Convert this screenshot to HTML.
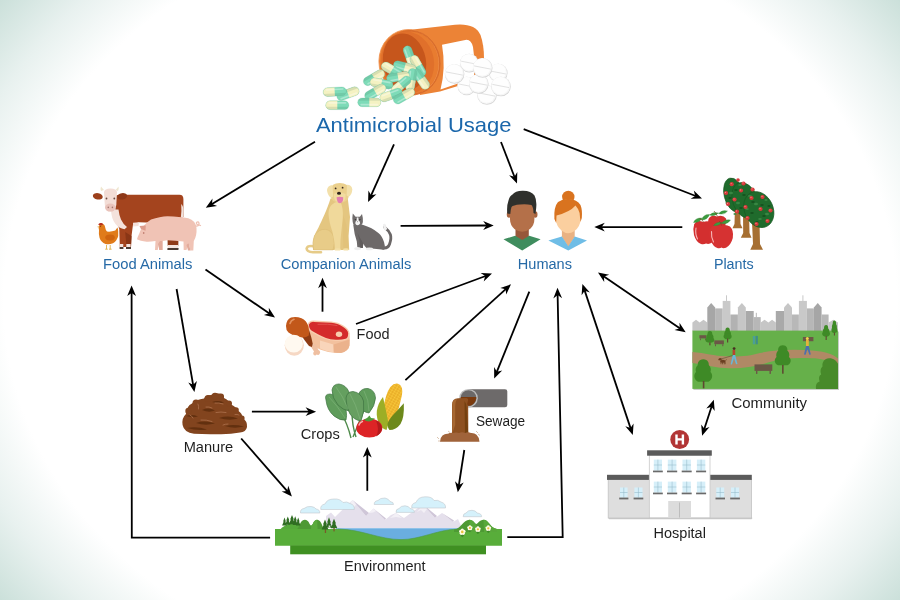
<!DOCTYPE html>
<html><head><meta charset="utf-8"><title>Antimicrobial Usage</title>
<style>
html,body{margin:0;padding:0;width:900px;height:600px;overflow:hidden;background:#fff;}
svg{display:block;will-change:transform;}
text{font-family:"Liberation Sans",sans-serif;}
</style></head><body>
<svg width="900" height="600" viewBox="0 0 900 600">
<defs>
<radialGradient id="bg" cx="450" cy="300" r="485" gradientUnits="userSpaceOnUse" gradientTransform="translate(450 300) scale(1.18 1) translate(-450 -300)">
<stop offset="0" stop-color="#ffffff"/>
<stop offset="0.78" stop-color="#ffffff"/>
<stop offset="0.89" stop-color="#e8f1ef"/>
<stop offset="1" stop-color="#cbe0da"/>
</radialGradient>
</defs>
<rect width="900" height="600" fill="url(#bg)"/>
<g id="pills">
<!-- bottle body -->
<path d="M404,30.5 L455,24.8 Q475,23 480.5,35 Q484,45 484,58 L484,78 L440,91.5 L420,95 Z" fill="#ec8336"/>
<!-- label -->
<path d="M442,44.8 L466.5,39.8 Q471.5,40.2 473,47 L474.5,60 L474,78 L440.5,89.6 Q446,68 442,44.8 Z" fill="#ffffff"/>
<!-- rim -->
<ellipse cx="409" cy="62.5" rx="30" ry="33" fill="#e87c30" stroke="#f0924f" stroke-width="0.8" transform="rotate(-10 409 62.5)"/>
<ellipse cx="411.5" cy="62.5" rx="28.5" ry="32.2" fill="none" stroke="#d46828" stroke-width="0.7" transform="rotate(-10 411.5 62.5)"/>
<ellipse cx="412" cy="62.5" rx="27.5" ry="31.5" fill="none" stroke="#d6692a" stroke-width="0.8" transform="rotate(-10 412 62.5)"/>
<ellipse cx="407.5" cy="62.5" rx="26.5" ry="31" fill="#e0702b" transform="rotate(-10 407.5 62.5)"/>
<ellipse cx="404.5" cy="62" rx="21.5" ry="28.8" fill="#c6561c" transform="rotate(-10 404.5 62)"/>
<!-- capsules inside -->
<g transform="translate(410,57) rotate(-110)"><rect x="-11.6" y="-4.4" width="23.2" height="8.8" rx="4.4" fill="#7edbb8"/><path d="M0,-4.4 H-7.2 A4.4,4.4 0 0 0 -7.2,4.4 H0 Z" fill="#f4f2c2"/><path d="M-11.2,1.6 H11.2 A4.4,4.4 0 0 1 7.2,4.4 H-7.2 A4.4,4.4 0 0 1 -11.2,1.6 Z" fill="#1d5a40" opacity="0.13"/><rect x="-9" y="-3.1" width="18" height="1.6" rx="0.8" fill="#ffffff" opacity="0.35"/><rect x="-11.6" y="-4.4" width="23.2" height="8.8" rx="4.4" fill="none" stroke="#5aa98a" stroke-width="0.3" opacity="0.6"/></g>
<g transform="translate(418,66) rotate(60)"><rect x="-11.6" y="-4.4" width="23.2" height="8.8" rx="4.4" fill="#7edbb8"/><path d="M0,-4.4 H-7.2 A4.4,4.4 0 0 0 -7.2,4.4 H0 Z" fill="#f4f2c2"/><path d="M-11.2,1.6 H11.2 A4.4,4.4 0 0 1 7.2,4.4 H-7.2 A4.4,4.4 0 0 1 -11.2,1.6 Z" fill="#1d5a40" opacity="0.13"/><rect x="-9" y="-3.1" width="18" height="1.6" rx="0.8" fill="#ffffff" opacity="0.35"/><rect x="-11.6" y="-4.4" width="23.2" height="8.8" rx="4.4" fill="none" stroke="#5aa98a" stroke-width="0.3" opacity="0.6"/></g>
<g transform="translate(404.7,67) rotate(-165)"><rect x="-11.6" y="-4.4" width="23.2" height="8.8" rx="4.4" fill="#7edbb8"/><path d="M0,-4.4 H-7.2 A4.4,4.4 0 0 0 -7.2,4.4 H0 Z" fill="#f4f2c2"/><path d="M-11.2,1.6 H11.2 A4.4,4.4 0 0 1 7.2,4.4 H-7.2 A4.4,4.4 0 0 1 -11.2,1.6 Z" fill="#1d5a40" opacity="0.13"/><rect x="-9" y="-3.1" width="18" height="1.6" rx="0.8" fill="#ffffff" opacity="0.35"/><rect x="-11.6" y="-4.4" width="23.2" height="8.8" rx="4.4" fill="none" stroke="#5aa98a" stroke-width="0.3" opacity="0.6"/></g>
<g transform="translate(392,70) rotate(30)"><rect x="-11.6" y="-4.4" width="23.2" height="8.8" rx="4.4" fill="#7edbb8"/><path d="M0,-4.4 H-7.2 A4.4,4.4 0 0 0 -7.2,4.4 H0 Z" fill="#f4f2c2"/><path d="M-11.2,1.6 H11.2 A4.4,4.4 0 0 1 7.2,4.4 H-7.2 A4.4,4.4 0 0 1 -11.2,1.6 Z" fill="#1d5a40" opacity="0.13"/><rect x="-9" y="-3.1" width="18" height="1.6" rx="0.8" fill="#ffffff" opacity="0.35"/><rect x="-11.6" y="-4.4" width="23.2" height="8.8" rx="4.4" fill="none" stroke="#5aa98a" stroke-width="0.3" opacity="0.6"/></g>
<g transform="translate(421,79) rotate(-125)"><rect x="-11.6" y="-4.4" width="23.2" height="8.8" rx="4.4" fill="#7edbb8"/><path d="M0,-4.4 H-7.2 A4.4,4.4 0 0 0 -7.2,4.4 H0 Z" fill="#f4f2c2"/><path d="M-11.2,1.6 H11.2 A4.4,4.4 0 0 1 7.2,4.4 H-7.2 A4.4,4.4 0 0 1 -11.2,1.6 Z" fill="#1d5a40" opacity="0.13"/><rect x="-9" y="-3.1" width="18" height="1.6" rx="0.8" fill="#ffffff" opacity="0.35"/><rect x="-11.6" y="-4.4" width="23.2" height="8.8" rx="4.4" fill="none" stroke="#5aa98a" stroke-width="0.3" opacity="0.6"/></g>
<g transform="translate(411.3,80) rotate(-80)"><rect x="-11.6" y="-4.4" width="23.2" height="8.8" rx="4.4" fill="#7edbb8"/><path d="M0,-4.4 H-7.2 A4.4,4.4 0 0 0 -7.2,4.4 H0 Z" fill="#f4f2c2"/><path d="M-11.2,1.6 H11.2 A4.4,4.4 0 0 1 7.2,4.4 H-7.2 A4.4,4.4 0 0 1 -11.2,1.6 Z" fill="#1d5a40" opacity="0.13"/><rect x="-9" y="-3.1" width="18" height="1.6" rx="0.8" fill="#ffffff" opacity="0.35"/><rect x="-11.6" y="-4.4" width="23.2" height="8.8" rx="4.4" fill="none" stroke="#5aa98a" stroke-width="0.3" opacity="0.6"/></g>
<g transform="translate(398,77) rotate(170)"><rect x="-11.6" y="-4.4" width="23.2" height="8.8" rx="4.4" fill="#7edbb8"/><path d="M0,-4.4 H-7.2 A4.4,4.4 0 0 0 -7.2,4.4 H0 Z" fill="#f4f2c2"/><path d="M-11.2,1.6 H11.2 A4.4,4.4 0 0 1 7.2,4.4 H-7.2 A4.4,4.4 0 0 1 -11.2,1.6 Z" fill="#1d5a40" opacity="0.13"/><rect x="-9" y="-3.1" width="18" height="1.6" rx="0.8" fill="#ffffff" opacity="0.35"/><rect x="-11.6" y="-4.4" width="23.2" height="8.8" rx="4.4" fill="none" stroke="#5aa98a" stroke-width="0.3" opacity="0.6"/></g>
<g transform="translate(401,85) rotate(-40)"><rect x="-11.6" y="-4.4" width="23.2" height="8.8" rx="4.4" fill="#7edbb8"/><path d="M0,-4.4 H-7.2 A4.4,4.4 0 0 0 -7.2,4.4 H0 Z" fill="#f4f2c2"/><path d="M-11.2,1.6 H11.2 A4.4,4.4 0 0 1 7.2,4.4 H-7.2 A4.4,4.4 0 0 1 -11.2,1.6 Z" fill="#1d5a40" opacity="0.13"/><rect x="-9" y="-3.1" width="18" height="1.6" rx="0.8" fill="#ffffff" opacity="0.35"/><rect x="-11.6" y="-4.4" width="23.2" height="8.8" rx="4.4" fill="none" stroke="#5aa98a" stroke-width="0.3" opacity="0.6"/></g>
<g transform="translate(374,77.7) rotate(150)"><rect x="-11.6" y="-4.4" width="23.2" height="8.8" rx="4.4" fill="#7edbb8"/><path d="M0,-4.4 H-7.2 A4.4,4.4 0 0 0 -7.2,4.4 H0 Z" fill="#f4f2c2"/><path d="M-11.2,1.6 H11.2 A4.4,4.4 0 0 1 7.2,4.4 H-7.2 A4.4,4.4 0 0 1 -11.2,1.6 Z" fill="#1d5a40" opacity="0.13"/><rect x="-9" y="-3.1" width="18" height="1.6" rx="0.8" fill="#ffffff" opacity="0.35"/><rect x="-11.6" y="-4.4" width="23.2" height="8.8" rx="4.4" fill="none" stroke="#5aa98a" stroke-width="0.3" opacity="0.6"/></g>
<g transform="translate(381.5,83.5) rotate(10)"><rect x="-11.6" y="-4.4" width="23.2" height="8.8" rx="4.4" fill="#7edbb8"/><path d="M0,-4.4 H-7.2 A4.4,4.4 0 0 0 -7.2,4.4 H0 Z" fill="#f4f2c2"/><path d="M-11.2,1.6 H11.2 A4.4,4.4 0 0 1 7.2,4.4 H-7.2 A4.4,4.4 0 0 1 -11.2,1.6 Z" fill="#1d5a40" opacity="0.13"/><rect x="-9" y="-3.1" width="18" height="1.6" rx="0.8" fill="#ffffff" opacity="0.35"/><rect x="-11.6" y="-4.4" width="23.2" height="8.8" rx="4.4" fill="none" stroke="#5aa98a" stroke-width="0.3" opacity="0.6"/></g>
<g transform="translate(391,95) rotate(-20)"><rect x="-11.6" y="-4.4" width="23.2" height="8.8" rx="4.4" fill="#7edbb8"/><path d="M0,-4.4 H-7.2 A4.4,4.4 0 0 0 -7.2,4.4 H0 Z" fill="#f4f2c2"/><path d="M-11.2,1.6 H11.2 A4.4,4.4 0 0 1 7.2,4.4 H-7.2 A4.4,4.4 0 0 1 -11.2,1.6 Z" fill="#1d5a40" opacity="0.13"/><rect x="-9" y="-3.1" width="18" height="1.6" rx="0.8" fill="#ffffff" opacity="0.35"/><rect x="-11.6" y="-4.4" width="23.2" height="8.8" rx="4.4" fill="none" stroke="#5aa98a" stroke-width="0.3" opacity="0.6"/></g>
<g transform="translate(375.3,92) rotate(150)"><rect x="-11.6" y="-4.4" width="23.2" height="8.8" rx="4.4" fill="#7edbb8"/><path d="M0,-4.4 H-7.2 A4.4,4.4 0 0 0 -7.2,4.4 H0 Z" fill="#f4f2c2"/><path d="M-11.2,1.6 H11.2 A4.4,4.4 0 0 1 7.2,4.4 H-7.2 A4.4,4.4 0 0 1 -11.2,1.6 Z" fill="#1d5a40" opacity="0.13"/><rect x="-9" y="-3.1" width="18" height="1.6" rx="0.8" fill="#ffffff" opacity="0.35"/><rect x="-11.6" y="-4.4" width="23.2" height="8.8" rx="4.4" fill="none" stroke="#5aa98a" stroke-width="0.3" opacity="0.6"/></g>
<g transform="translate(404,96) rotate(150)"><rect x="-11.6" y="-4.4" width="23.2" height="8.8" rx="4.4" fill="#7edbb8"/><path d="M0,-4.4 H-7.2 A4.4,4.4 0 0 0 -7.2,4.4 H0 Z" fill="#f4f2c2"/><path d="M-11.2,1.6 H11.2 A4.4,4.4 0 0 1 7.2,4.4 H-7.2 A4.4,4.4 0 0 1 -11.2,1.6 Z" fill="#1d5a40" opacity="0.13"/><rect x="-9" y="-3.1" width="18" height="1.6" rx="0.8" fill="#ffffff" opacity="0.35"/><rect x="-11.6" y="-4.4" width="23.2" height="8.8" rx="4.4" fill="none" stroke="#5aa98a" stroke-width="0.3" opacity="0.6"/></g>
<g transform="translate(369.3,102.3) rotate(180)"><rect x="-11.6" y="-4.4" width="23.2" height="8.8" rx="4.4" fill="#7edbb8"/><path d="M0,-4.4 H-7.2 A4.4,4.4 0 0 0 -7.2,4.4 H0 Z" fill="#f4f2c2"/><path d="M-11.2,1.6 H11.2 A4.4,4.4 0 0 1 7.2,4.4 H-7.2 A4.4,4.4 0 0 1 -11.2,1.6 Z" fill="#1d5a40" opacity="0.13"/><rect x="-9" y="-3.1" width="18" height="1.6" rx="0.8" fill="#ffffff" opacity="0.35"/><rect x="-11.6" y="-4.4" width="23.2" height="8.8" rx="4.4" fill="none" stroke="#5aa98a" stroke-width="0.3" opacity="0.6"/></g>
<g transform="translate(348,93.7) rotate(160)"><rect x="-11.6" y="-4.4" width="23.2" height="8.8" rx="4.4" fill="#7edbb8"/><path d="M0,-4.4 H-7.2 A4.4,4.4 0 0 0 -7.2,4.4 H0 Z" fill="#f4f2c2"/><path d="M-11.2,1.6 H11.2 A4.4,4.4 0 0 1 7.2,4.4 H-7.2 A4.4,4.4 0 0 1 -11.2,1.6 Z" fill="#1d5a40" opacity="0.13"/><rect x="-9" y="-3.1" width="18" height="1.6" rx="0.8" fill="#ffffff" opacity="0.35"/><rect x="-11.6" y="-4.4" width="23.2" height="8.8" rx="4.4" fill="none" stroke="#5aa98a" stroke-width="0.3" opacity="0.6"/></g>
<g transform="translate(334.7,91.7) rotate(-3)"><rect x="-11.6" y="-4.4" width="23.2" height="8.8" rx="4.4" fill="#7edbb8"/><path d="M0,-4.4 H-7.2 A4.4,4.4 0 0 0 -7.2,4.4 H0 Z" fill="#f4f2c2"/><path d="M-11.2,1.6 H11.2 A4.4,4.4 0 0 1 7.2,4.4 H-7.2 A4.4,4.4 0 0 1 -11.2,1.6 Z" fill="#1d5a40" opacity="0.13"/><rect x="-9" y="-3.1" width="18" height="1.6" rx="0.8" fill="#ffffff" opacity="0.35"/><rect x="-11.6" y="-4.4" width="23.2" height="8.8" rx="4.4" fill="none" stroke="#5aa98a" stroke-width="0.3" opacity="0.6"/></g>
<g transform="translate(337.3,105.2) rotate(0)"><rect x="-11.6" y="-4.4" width="23.2" height="8.8" rx="4.4" fill="#7edbb8"/><path d="M0,-4.4 H-7.2 A4.4,4.4 0 0 0 -7.2,4.4 H0 Z" fill="#f4f2c2"/><path d="M-11.2,1.6 H11.2 A4.4,4.4 0 0 1 7.2,4.4 H-7.2 A4.4,4.4 0 0 1 -11.2,1.6 Z" fill="#1d5a40" opacity="0.13"/><rect x="-9" y="-3.1" width="18" height="1.6" rx="0.8" fill="#ffffff" opacity="0.35"/><rect x="-11.6" y="-4.4" width="23.2" height="8.8" rx="4.4" fill="none" stroke="#5aa98a" stroke-width="0.3" opacity="0.6"/></g>
<!-- tablets -->
<g transform="translate(486.7,94.5)"><circle r="9.8" cx="0.3" cy="0.5" fill="#d6d6d6"/><circle r="9.5" fill="#f6f6f6"/><circle r="8.6" cx="-0.3" cy="-0.4" fill="#fefefe"/><path d="M-8.3,-1.6 L8.3,1.6" stroke="#d9d9d9" stroke-width="0.8"/></g>
<g transform="translate(498,72.5) scale(0.95)"><circle r="9.8" cx="0.3" cy="0.5" fill="#d6d6d6"/><circle r="9.5" fill="#f6f6f6"/><circle r="8.6" cx="-0.3" cy="-0.4" fill="#fefefe"/><path d="M-8.3,-1.6 L8.3,1.6" stroke="#d9d9d9" stroke-width="0.8"/></g>
<g transform="translate(469,62.7) scale(0.95)"><circle r="9.8" cx="0.3" cy="0.5" fill="#d6d6d6"/><circle r="9.5" fill="#f6f6f6"/><circle r="8.6" cx="-0.3" cy="-0.4" fill="#fefefe"/><path d="M-8.3,-1.6 L8.3,1.6" stroke="#d9d9d9" stroke-width="0.8"/></g>
<g transform="translate(466.5,85.5) scale(0.95)"><circle r="9.8" cx="0.3" cy="0.5" fill="#d6d6d6"/><circle r="9.5" fill="#f6f6f6"/><circle r="8.6" cx="-0.3" cy="-0.4" fill="#fefefe"/><path d="M-8.3,-1.6 L8.3,1.6" stroke="#d9d9d9" stroke-width="0.8"/></g>
<g transform="translate(454.3,73.5)"><circle r="9.8" cx="0.3" cy="0.5" fill="#d6d6d6"/><circle r="9.5" fill="#f6f6f6"/><circle r="8.6" cx="-0.3" cy="-0.4" fill="#fefefe"/><path d="M-8.3,-1.6 L8.3,1.6" stroke="#d9d9d9" stroke-width="0.8"/></g>
<g transform="translate(478.5,83.5)"><circle r="9.8" cx="0.3" cy="0.5" fill="#d6d6d6"/><circle r="9.5" fill="#f6f6f6"/><circle r="8.6" cx="-0.3" cy="-0.4" fill="#fefefe"/><path d="M-8.3,-1.6 L8.3,1.6" stroke="#d9d9d9" stroke-width="0.8"/></g>
<g transform="translate(482.4,67.5)"><circle r="9.8" cx="0.3" cy="0.5" fill="#d6d6d6"/><circle r="9.5" fill="#f6f6f6"/><circle r="8.6" cx="-0.3" cy="-0.4" fill="#fefefe"/><path d="M-8.3,-1.6 L8.3,1.6" stroke="#d9d9d9" stroke-width="0.8"/></g>
<g transform="translate(500.7,86)"><circle r="9.8" cx="0.3" cy="0.5" fill="#d6d6d6"/><circle r="9.5" fill="#f6f6f6"/><circle r="8.6" cx="-0.3" cy="-0.4" fill="#fefefe"/><path d="M-8.3,-1.6 L8.3,1.6" stroke="#d9d9d9" stroke-width="0.8"/></g>
</g>
<g id="foodanimals">
<!-- cow back legs -->
<path d="M167.5,236 L178.5,236 L178.3,246 L167.7,246 Z" fill="#8f3a18"/>
<path d="M167.7,245 L178.3,245 L178.3,248 L167.7,248 Z" fill="#f4e4df"/>
<path d="M167.5,248 L178.6,248 L178.4,250 L167.4,250 Z" fill="#4a3a33"/>
<!-- cow tail -->

<!-- cow body -->
<path d="M115,197.5 Q115.5,194.7 119,194.7 L179.5,194.7 Q183.4,194.7 183.4,199 L183.4,217 L172,221.3 Q152,222.8 139,222.3 L133,224.5 L131.5,236 L131,247 L119.8,247 L119.3,229 Q116,222 115.5,214 Z" fill="#a4441e"/>
<path d="M181.2,204 Q183.6,206 183.4,211 L183.2,217.5 L180.8,217.8 Q181.8,211 181.2,204 Z" fill="#f2e2dc"/>
<!-- chest white -->
<path d="M111,209.5 Q111.3,219 115.5,224 Q119,228.2 124.5,229.2 L127,227 Q123,224 121,219.5 Q119,214.5 118.5,209.5 Z" fill="#f4e2dc"/>
<path d="M133,222.8 L139,222.3 L138.5,226 L133.2,226.5 Z" fill="#f4e2dc"/>
<!-- front legs -->
<path d="M125.2,232 L126.5,247 L131,247 L131.5,236 Z" fill="#8a3616"/>

<path d="M120,244 L123.3,244 L123.2,247 L120,247 Z M126.3,244 L130.6,244 L130.6,247 L126.3,247Z" fill="#f4e4df"/>
<path d="M119.6,247 L123.4,247 L123.4,249 L119.6,249 Z M126,247 L131,247 L131,249 L126,249Z" fill="#4a3a33"/>
<!-- ears -->
<ellipse cx="97.8" cy="196.3" rx="5" ry="3.2" fill="#9c401c" transform="rotate(10 97.8 196.3)"/>
<ellipse cx="122.2" cy="196.3" rx="5" ry="3.2" fill="#8e3818" transform="rotate(-10 122.2 196.3)"/>
<!-- horns -->
<path d="M101,191 Q100,189 101,186.5 Q103,189 104,190 Z M118,191 Q119,189 118.6,186.5 Q116.5,189 115.5,190 Z" fill="#efe6cf"/>
<!-- head -->
<path d="M104,192 Q104.5,188.5 110.5,188.5 Q116.5,188.5 117,192 L116.3,205 Q115,211.6 110.5,211.6 Q106,211.6 104.8,205 Z" fill="#f3ddd6"/>
<ellipse cx="110.3" cy="207.6" rx="5.3" ry="4" fill="#e9c3bb"/>
<circle cx="108.3" cy="207.4" r="0.8" fill="#a57a72"/><circle cx="112.4" cy="207.4" r="0.8" fill="#a57a72"/>
<circle cx="106.5" cy="198.5" r="0.9" fill="#6a4b40"/><circle cx="114.3" cy="198.5" r="0.9" fill="#6a4b40"/>
<!-- pig -->
<path d="M195.5,226 Q199.5,226.5 199,223.2 Q198.3,221 196.5,222.5 Q196,224.5 198.5,224.8 L200.5,225.5" stroke="#efc2b4" stroke-width="1.3" fill="none" stroke-linecap="round"/>
<path d="M144.2,225.3 Q148,221.5 151,219.6 Q160,216.3 167.5,216.2 Q180,216.5 188.3,218.3 Q195.5,220.5 196.5,228 Q197,236 193.8,241 L193.3,250.5 L190.4,250.5 L188.6,243 L186.5,250 L183.7,250 L183.5,241.5 Q175,240.5 167.5,240.3 L162.5,241 L162.5,250 L159.3,250 L158.5,244 L157.8,250 L155,250 L155.5,241 Q150,242 146.7,241.8 Q140,241 137,239.3 Q137.5,237 139.5,233 Q141,228 144.2,225.3 Z" fill="#f0c3b5"/>
<path d="M158,244 L160,241 L162.5,241 L162.5,250 L159.3,250Z M186.5,245 L188.6,243 L190.5,250.5 L188,250.5 Z" fill="#e2ab9c"/>
<path d="M139.5,226 L145.8,225.4 L145.5,230.8 L141,229 Z" fill="#dd9c8c"/>
<circle cx="143.7" cy="233" r="0.8" fill="#b0665a"/>
<!-- chicken -->
<path d="M106.5,245 L106.5,249 M110.2,245 L110.2,249 M105.2,249.2 H107.8 M109,249.2 H111.6" stroke="#e0b04a" stroke-width="0.9"/>
<path d="M99,226 Q99.5,223.5 102,223.6 Q104.5,224 105.2,227.5 Q105.5,230 107,231.5 Q111,232 115.3,230.5 Q116.5,228.5 117.6,227.6 Q118.6,231 118.2,236 Q117,241 113,243.2 Q109,245 105.5,244 Q101,242 99.6,238 Q98.5,234 99,230 Q98.2,228.5 99,226 Z" fill="#e07b1a"/>
<ellipse cx="110" cy="237.4" rx="4.8" ry="3" fill="#cf640f"/>
<path d="M98.2,224.8 Q98.8,222.8 100.8,223 Q102.8,222.6 103.2,224.6 L101,225.6 Z" fill="#b8301e"/>
<path d="M98.5,226 L97.2,227 L98.8,227.6 Z" fill="#d8a23a"/>
<circle cx="100.6" cy="226.2" r="0.5" fill="#5a2a10"/>
</g>
<g id="companion">
<!-- dog tail -->
<path d="M315,246.5 Q307.5,245 306.6,248.5 Q306.8,251.8 313,252.2 L321,252.2" stroke="#e6cb88" stroke-width="2.6" fill="none" stroke-linecap="round"/>
<!-- dog body -->
<path d="M330.5,198.5 C327,210 322,220 318.5,227.5 C314.5,234 312.6,240 312.8,246.5 L313.2,249.9 L349.2,249.9 L348.6,236 L350,217 L347.5,196 Z" fill="#e4c680"/>
<!-- haunch -->
<path d="M313.5,249.9 Q311.8,242 314.5,235.5 Q318.5,229 325.5,229.3 Q332,230.5 333.8,237.5 Q335,244 333,249.9 Z" fill="#e8cc88" stroke="#d9b970" stroke-width="0.5"/>
<!-- front right leg -->
<path d="M342.5,214 Q347.5,224 347.8,236 L348.3,249.9 L343.5,249.9 L343,237 Q342.5,225 342.5,214Z" fill="#e2c27a"/>
<!-- shoulder / front leg lighter -->
<path d="M331.5,205 Q336,200.5 340.5,202 Q343.5,208 342.8,218 Q341.5,230 340.5,240 L340.2,249.9 L335.2,249.9 Q334.5,240 332.5,232 Q329,222 328.5,214 Q328.5,208 331.5,205 Z" fill="#f0d99b"/>
<!-- paws -->
<ellipse cx="337.6" cy="249.4" rx="3.2" ry="1.2" fill="#f3dfa6"/>
<ellipse cx="345.9" cy="249.4" rx="2.9" ry="1.2" fill="#f3dfa6"/>
<!-- head -->
<path d="M330.6,190 Q331,183.2 339.8,183 Q348.6,183.2 349,190 L349,195 Q348.4,200.5 344,202 Q339.8,203.5 335.6,202 Q331,200.5 330.6,195 Z" fill="#ebd08d"/>
<path d="M334,194 Q339.8,191 345.6,194 Q346,200 343,201.5 Q339.8,202.8 336.6,201.5 Q333.6,200 334,194Z" fill="#f2dca0"/>
<!-- ears -->
<path d="M332.5,185 Q327.5,185.5 327,190 Q327.3,195 330.8,197.8 L333.2,196.5 Z" fill="#f3e0aa"/>
<path d="M347,184.8 Q352,185 352.3,189.5 Q352,194.5 348.8,196.8 L346.6,195.5 Z" fill="#f3e0aa"/>
<!-- eyes, nose -->
<circle cx="335.6" cy="188.4" r="0.9" fill="#3a2b22"/><circle cx="342.6" cy="187.7" r="0.9" fill="#3a2b22"/>
<ellipse cx="339" cy="193.2" rx="2" ry="1.5" fill="#2d221c"/>
<path d="M336.6,197.2 Q339.8,196.2 343.2,197.2 Q343.4,202.6 340,203.3 Q337,203.1 336.6,197.2 Z" fill="#e47fb0"/>
<!-- cat tail -->
<path d="M382,247.8 Q388,249 389.6,244 Q391.6,238 390.4,234.5 Q388.8,230.5 386,228.6 Q384.6,227.6 384.3,226" stroke="#6b6767" stroke-width="2.8" fill="none"/>
<path d="M385.6,228.8 Q384.5,227.6 384.3,225.2" stroke="#f0f0f0" stroke-width="2.8" fill="none" stroke-linecap="round"/>
<!-- cat body -->
<path d="M353.2,224.5 Q354.2,234 356.8,241.5 L357.4,248 L362.8,248 L363.3,243.5 Q364.5,246.5 366.5,248 L384.2,249.8 Q385.6,246 384,242 Q382,236 378.7,233.3 Q374,229.5 371,228 Q366.5,226 362.6,224.8 Z" fill="#6d6969"/>
<path d="M357.5,233 Q360,238 363.3,243.5 L362.8,248 L360,248 Q360,240 357.5,233 Z" fill="#615d5d"/>
<!-- cat head -->
<path d="M352.8,213.4 L355.6,216.8 L359.9,216.8 L362,214.1 Q363.3,218.5 362.9,222 Q362,226.4 357.7,226.6 Q353.3,226.4 352.7,222 Q352,217.5 352.8,213.4 Z" fill="#706c6c"/>
<path d="M356.8,217.4 L358.4,217.4 L358.6,220.6 Q360.4,221.5 360.1,223.4 Q359.2,225.2 357.6,225.2 Q355.8,225.1 355.3,223.4 Q355,221.5 356.7,220.6 Z" fill="#f2f2f2"/>
<ellipse cx="355.4" cy="219.6" rx="0.8" ry="0.6" fill="#3b3838"/><ellipse cx="359.9" cy="219.6" rx="0.8" ry="0.6" fill="#3b3838"/>
<circle cx="357.6" cy="221.8" r="0.45" fill="#5a4a4a"/>
<!-- cat paws -->
<ellipse cx="357.6" cy="248.6" rx="3.4" ry="1.7" fill="#eeeeee"/>
<ellipse cx="369.4" cy="248.9" rx="3.6" ry="1.3" fill="#eeeeee"/>
</g>
<g id="humans">
<!-- man -->
<path d="M515.5,227 L528.8,227 L528.8,238 L522.2,242 L515.5,238 Z" fill="#97573a"/>
<path d="M503.5,239.3 L515.2,235.8 L522.2,240 L529.2,235.8 L540.6,239.3 L522.2,250.5 Z" fill="#3f8d5e"/>
<ellipse cx="509" cy="214.5" rx="2.2" ry="3.2" fill="#a8643f"/>
<ellipse cx="535.3" cy="214.5" rx="2.2" ry="3.2" fill="#a8643f"/>
<path d="M510,202 L534.4,202 L534.4,219 Q534.4,225 530,229 Q526,231.8 522.2,231.8 Q518.4,231.8 514.4,229 Q510,225 510,219 Z" fill="#b47049"/>
<path d="M507.3,213.5 Q506.5,206 508.5,200.5 Q509.5,196 512.5,194.5 Q515,191 522.5,190.8 Q531,190.6 534.5,195.5 Q537,200 536.2,208 L535.5,214 L533.5,213 Q533.5,207.5 531.5,205 Q526,203.8 520,204.5 Q513,205 511.5,207 Q510.5,210 510.3,214 Z" fill="#2f302c"/>
<!-- woman -->
<path d="M561.9,229 L574.7,229 L574.7,237 L568.3,247 L561.9,237 Z" fill="#e9b283"/>
<path d="M548.4,240.4 L561.9,236.4 L568.3,246.3 L574.7,236.4 L587,240.4 L568.3,250.6 Z" fill="#6fbde6"/>
<circle cx="568.3" cy="197" r="6.2" fill="#d9731f"/>
<path d="M556,212 Q556,203 562,200.5 Q568.3,198.5 574.5,200.5 Q580.6,203 580.6,212 L580.6,220 Q580,227 574.5,231 Q571,233.3 568.2,233.3 Q565,233.3 561.5,230.5 Q556.3,226 556,220 Z" fill="#fbcf9f"/>
<path d="M554.4,219 Q553.6,207 558,202 Q563,198.5 569,199 Q577,199.5 580.5,205 Q582.5,210 581.8,218 L580.5,222 L579.6,213 Q578,208 575.5,205.5 Q570,212 556.5,215.5 L556.2,223 Z" fill="#d9731f"/>
</g>
<g id="food">
<!-- steak side -->
<path d="M309.5,330 L310,340 Q313,346 320,349.5 Q328,352.8 337,353 Q345,353 348.5,348.5 Q350,345 349.6,336 L349,331 Z" fill="#f3c19e"/>
<path d="M320,340.5 L333.5,344.5 L333.8,352.6 Q326,351.5 320,348.5 Z" fill="#f9d5ba"/>
<path d="M333.5,344.5 L349.5,339.5 L349.5,345.5 Q348,351.5 341,352.9 L333.8,352.6 Z" fill="#ebb28c"/>
<!-- steak top with fat rim -->
<path d="M307.4,324.5 Q309,320.3 314,320.6 L331.5,321.5 Q338.5,322.2 343,325.2 Q349.6,329 349.5,333.6 Q349.2,339.2 346,340.1 Q341,341.4 335.6,341 Q329.5,340.7 325.5,339.1 Q320.5,337.2 317.5,335.5 Q313.5,333.3 311,332 Q307.6,329.8 307.4,324.5 Z" fill="#f8cdae"/>
<path d="M308.9,324.6 Q310.2,321.6 313.8,321.9 L331.3,322.8 Q338,323.5 342,326.3 Q348,329.5 348.2,333.4 Q348,338 345.6,338.8 Q341,340 335.8,339.7 Q330,339.5 326,337.9 Q321,336 318,334.3 Q314,332 311.8,330.8 Q309.1,329 308.9,324.6 Z" fill="#d42b2b"/>
<path d="M318,324.3 Q328,323.5 337,325.5" stroke="#e2514d" stroke-width="1" fill="none" stroke-linecap="round"/>
<ellipse cx="339" cy="334.3" rx="3.2" ry="2.7" fill="#f8cdae"/>
<!-- bone -->
<path d="M310.2,345.5 L315.5,343.8 L318.5,350 Q321,351.5 319.8,353.5 Q318.8,355.8 316.6,354.6 Q315.2,356.2 313.6,354.8 Q312.5,353 314,351.5 Z" fill="#efbfa1"/>
<!-- drumstick -->
<path d="M302,334.5 L309.2,330.5 Q311.5,337 312.8,344 L311.8,347 L309,346 Q305,341 302,336.5 Z" fill="#8e3b13"/>
<path d="M286,326 Q286.5,319.5 291,317.6 Q296,316.2 301.5,318.3 Q306.5,320.6 308.3,326 Q309.8,331 308.8,335.5 Q305.5,338 301,337.2 Q293,336 288.5,332.5 Q285.8,330 286,326 Z" fill="#c2581a"/>
<path d="M290,323.5 Q290.8,320.5 294,319.3" stroke="#e2925f" stroke-width="1.6" fill="none" stroke-linecap="round"/>
<!-- egg -->
<ellipse cx="294.3" cy="345.3" rx="9.6" ry="10.4" fill="#f6d8c4"/>
<ellipse cx="293.8" cy="343.7" rx="9.1" ry="8.9" fill="#fff9f0"/>
</g>
<g id="manure">
<path d="M182.6,425 Q181.5,418 186,414 Q186.5,406 192,403.5 Q196,399.5 204,398.5 Q206,395 211,395 Q214,392.6 219,393.5 Q224,393.8 224,398 Q229,400 231,404.5 Q236,406.5 238.5,411 Q242.5,413.5 242.5,418 Q247.5,421 247,427 Q246,432 240,432.5 Q230,434.5 218,434.2 Q205,434.5 194,433.8 Q184,432.5 182.6,425 Z" fill="#82441e"/>
<g fill="#82441e"><circle cx="208" cy="398.5" r="3.5"/><circle cx="215" cy="396" r="3.2"/><circle cx="221" cy="396.5" r="3"/><circle cx="196" cy="403" r="3.5"/><circle cx="188.5" cy="411" r="3.2"/><circle cx="229" cy="403.5" r="3"/><circle cx="236" cy="410" r="2.8"/><circle cx="242" cy="418" r="2.6"/></g>
<g fill="#62300f">
<path d="M196,423 Q205,420 215,423.5 Q205,426 196,423 Z"/>
<path d="M219,418 Q229,415 238,418.5 Q229,421 219,418 Z"/>
<path d="M202,410 Q209,407 215,410.5 Q209,413 202,410 Z"/>
<path d="M187,428 Q197,426 207,429.5 Q197,431 187,428 Z"/>
<path d="M225,426 Q234,424 244,426.5 Q234,429 225,426 Z"/>
<path d="M212,402 Q218,400 224,402.5 Q218,404 212,402 Z"/>
<path d="M186,416 Q192,414 198,416.5 Q192,418 186,416 Z"/>
</g>
<g fill="none" stroke="#a86c48" stroke-width="0.9" stroke-linecap="round">
<path d="M198,404 Q199,406 198.5,409"/>
<path d="M206,407 Q209,406.5 212,408"/>
<path d="M215,403 Q219,402.5 223,404"/>
<path d="M216,412.5 Q221,411.5 226,412.5"/>
<path d="M201,420 Q206,419.5 212,421.5"/>
<path d="M223,425 Q225,424 228,424"/>
<path d="M190,415 Q192,416 193,418"/>
<path d="M235,414.5 Q237,414 239,415"/>
</g>
</g>
<defs>
<pattern id="kern" width="3" height="2.5" patternUnits="userSpaceOnUse" patternTransform="translate(393 402) rotate(15)">
<rect width="3" height="2.5" fill="#e3a21e"/>
<rect x="0.3" y="0.3" width="2.4" height="1.9" rx="0.7" fill="#f9c93c"/>
</pattern>
</defs>
<g id="crops">
<!-- stems -->
<path d="M340,410 Q348,425 351,438 M352,412 Q352,425 356,437 M364,410 Q358,425 353,437" stroke="#4e8a4a" stroke-width="1.4" fill="none"/>
<!-- leaves -->
<g stroke="#3d7340" stroke-width="0.7">
<path d="M326,400 Q324,394 330,394 Q338,395 343,403 Q348,411 346,420 Q340,421 334,416 Q327,410 326,400 Z" fill="#5f9c5b"/>
<path d="M332,390 Q333,384 339,384 Q346,385 349,392 Q352,401 349,411 Q343,410 338,405 Q332,398 332,390 Z" fill="#649f5f"/>
<path d="M359,393 Q362,388 368,388.5 Q375,390 375.5,398 Q375,406 369,413 Q362,412 360,406 Q358,399 359,393 Z" fill="#5f9c5b"/>
<path d="M346,398 Q347,391.5 353,391.5 Q361,392.5 363.5,401 Q365,411 361,421 Q354,420 350,414 Q346,407 346,398 Z" fill="#679f61"/>
</g>
<g stroke="#88bb82" stroke-width="0.5" fill="none">
<path d="M329,397 Q337,405 345,418"/><path d="M336,387 Q343,396 348,409"/><path d="M350,394 Q356,404 360,419"/><path d="M364,391 Q369,400 369,411"/>
</g>
<!-- corn -->
<path d="M-8,24 L-8.2,-4 Q-7.5,-18.5 0,-19 Q7,-18.5 7,-5 L7.5,24 Z" transform="translate(393 402) rotate(15)" fill="url(#kern)"/>
<path d="M383,397 Q378,403 376.8,411 Q376.3,419 379.5,424.5 Q382.5,429 386.5,430 L388.5,424 Q386.5,412 383,397 Z" fill="#9cae26"/>
<path d="M403.8,403.3 Q398,410 393,415 Q388.5,420 387.5,424 Q387.8,428.5 389.5,430 Q396,430 400.5,424 Q404.5,417.5 403.8,403.3 Z" fill="#6d891b"/>
<!-- tomato -->
<ellipse cx="369.3" cy="428" rx="13" ry="9.6" fill="#dd2426"/>
<path d="M376,420.5 Q382,423 382,429 Q381,434 376,436.5 Q380,430 376,420.5 Z" fill="#b51a1c"/>
<path d="M359,425 Q360,422 362.5,421.5" stroke="#f7b0b0" stroke-width="1.4" fill="none" stroke-linecap="round"/>
<path d="M364,419.5 L367,418 L369.5,415.5 L371,418 L375,418.5 L372,420.5 L369,421.5 L366,421 Z" fill="#4e9a3a"/>
</g>
<g id="sewage">
<path d="M468.5,389.3 L505,389.3 Q507.3,389.3 507.3,391.6 L507.3,405 Q507.3,407.3 505,407.3 L468.5,407.3 Z" fill="#6d6a6a"/>
<circle cx="468.5" cy="398.2" r="9.3" fill="#bdbdbd"/>
<circle cx="468.5" cy="398.2" r="7.9" fill="#6b6868"/>
<path d="M460.7,397 L476.3,397 Q476,403 471,405.5 Q466,406.8 462.5,403 Q460.8,400.5 460.7,397 Z" fill="#7a3a0e"/>
<!-- stream -->
<path d="M452,433 L452,405 Q452,398.3 458,398.3 L466.5,398 Q469,398.5 467.8,401.5 Q466.5,404 468.2,406 L468.3,433 Z" fill="#8e5020"/>
<path d="M452.3,433 L452.3,405 Q452.5,399.5 457,399 Q455,402 455.2,406 L455.2,425 Z" fill="#a66731"/>
<path d="M464.5,401 Q466.5,403.5 466.5,407 L468.2,433 L465,433 Z" fill="#74400f"/>
<!-- puddle -->
<path d="M440,441.8 Q440.2,437.5 442.5,435.5 Q445,433.5 448,433.8 Q450.5,432 453,433 Q456,431.8 459,433 Q462,431.6 465,433 Q468,431.5 471,433 Q474.5,432.8 476.5,434.8 Q479,437 479.5,441.8 Z" fill="#a0633a"/>
<path d="M437,437 L439,439 M438,441 L440,441 M476,431 L478,433 M478,434 L480,435.5 M448,431 L450,432.5" stroke="#b88a60" stroke-width="0.5"/>
</g>
<g id="plants">
<!-- trunks -->
<g fill="#a66f32">
<path d="M735,205 L740,205 L740.5,224 L742.5,228.3 L732.5,228.3 L734.5,224 Z"/>
<path d="M743,212 L749,212 L749.5,233 L751.5,237.7 L740.8,237.7 L743.2,233 Z"/>
<path d="M752,222 L759.5,222 L760,244 L763,249.7 L750.3,249.7 L753,244 Z"/>
</g>
<!-- crowns -->
<g fill="#1f6b2c" stroke="#185a22" stroke-width="0.7">
<ellipse cx="734" cy="195" rx="9.8" ry="17.3" transform="rotate(-14 734 195)"/>
<ellipse cx="745" cy="200.4" rx="12.3" ry="18.6" transform="rotate(-20 745 200.4)"/>
<ellipse cx="758.8" cy="209.6" rx="14.3" ry="18.6" transform="rotate(-24 758.8 209.6)"/>
</g>
<g fill="#124d1c" opacity="0.8">
<ellipse cx="736" cy="190" rx="1.8" ry="1"/><ellipse cx="744" cy="195" rx="1.8" ry="1"/><ellipse cx="753" cy="202" rx="1.8" ry="1"/><ellipse cx="762" cy="205" rx="1.8" ry="1"/>
<ellipse cx="741" cy="208" rx="1.8" ry="1"/><ellipse cx="752" cy="213" rx="1.8" ry="1"/><ellipse cx="764" cy="216" rx="1.8" ry="1"/><ellipse cx="730" cy="198" rx="1.6" ry="1"/>
<ellipse cx="757" cy="222" rx="1.6" ry="1"/><ellipse cx="769" cy="206" rx="1.6" ry="1"/>
</g>
<g fill="#3b8a45" opacity="0.9">
<ellipse cx="731" cy="193" rx="2" ry="1.2"/><ellipse cx="740" cy="185" rx="1.8" ry="1"/><ellipse cx="738" cy="203" rx="2" ry="1.2"/>
<ellipse cx="750" cy="196" rx="2" ry="1.1"/><ellipse cx="747" cy="209" rx="1.8" ry="1"/><ellipse cx="756" cy="204" rx="2" ry="1.2"/>
<ellipse cx="767" cy="214" rx="2" ry="1.2"/><ellipse cx="760" cy="219" rx="1.8" ry="1"/><ellipse cx="753" cy="190" rx="1.6" ry="1"/>
<ellipse cx="766" cy="200" rx="1.6" ry="1"/><ellipse cx="727" cy="203" rx="1.6" ry="1"/><ellipse cx="735" cy="214" rx="1.6" ry="1"/>
</g>
<g fill="#d8393a">
<circle cx="731.7" cy="184.2" r="2.1"/><circle cx="743.5" cy="183.5" r="2.1"/><circle cx="752.5" cy="189.5" r="2.1"/>
<circle cx="726" cy="193" r="2.1"/><circle cx="741" cy="190.5" r="2.1"/><circle cx="734.5" cy="199.5" r="2.1"/>
<circle cx="751.5" cy="198" r="2.1"/><circle cx="762.5" cy="197" r="2.1"/><circle cx="728" cy="204" r="2.1"/>
<circle cx="745.5" cy="207" r="2.1"/><circle cx="760.5" cy="209" r="2.1"/><circle cx="770.5" cy="210.5" r="2.1"/>
<circle cx="737" cy="211.5" r="2.1"/><circle cx="747.5" cy="218" r="2.1"/><circle cx="767.5" cy="221" r="2.1"/>
<circle cx="756.5" cy="224" r="2.1"/><circle cx="738" cy="180" r="1.8"/>
</g>
<g fill="#f08a8a">
<circle cx="731.2" cy="183.6" r="0.6"/><circle cx="743" cy="182.9" r="0.6"/><circle cx="752" cy="188.9" r="0.6"/><circle cx="725.5" cy="192.4" r="0.6"/><circle cx="740.5" cy="189.9" r="0.6"/><circle cx="734" cy="198.9" r="0.6"/><circle cx="751" cy="197.4" r="0.6"/><circle cx="762" cy="196.4" r="0.6"/><circle cx="727.5" cy="203.4" r="0.6"/><circle cx="745" cy="206.4" r="0.6"/><circle cx="760" cy="208.4" r="0.6"/><circle cx="770" cy="209.9" r="0.6"/><circle cx="736.5" cy="210.9" r="0.6"/><circle cx="747" cy="217.4" r="0.6"/><circle cx="767" cy="220.4" r="0.6"/><circle cx="756" cy="223.4" r="0.6"/>
</g>
<!-- apples -->
<g>
<path d="M717,216.5 Q712,214.5 709,218 Q707,222 709.5,226 L724,227 Q727.5,222 726,218.5 Q723,214.5 717,216.5 Z" fill="#d32f2f"/>
<path d="M703,222 Q697,219.5 694.2,224 Q692.5,229 694,235 Q696,242 701,244 Q704,244.6 706,243.5 Q709,244.6 712,242.5 Q715,238 714.2,230 Q713.5,223 709,221.5 Q706,221 703,222 Z" fill="#d32f2f"/>
<path d="M719,226 Q712.5,223.5 710,229 Q708.5,234 710.5,240 Q713,247 718,248.3 Q720.5,248.6 721.5,247.6 Q723,248.6 726,247.8 Q731,245 732.8,238 Q734,230.5 730,226.5 Q726,224 721.5,225.5 Z" fill="#d63232"/>
<path d="M696,228 Q695,234 697.5,239 M711.5,231.5 Q711,237 713.5,242" stroke="#f7b7b7" stroke-width="1.1" fill="none" stroke-linecap="round"/>

</g>
<g fill="#3c9b3f" stroke="#2e7d31" stroke-width="0.3">
<path d="M693.5,222.5 Q695.5,217.5 702,218 Q699.5,223 693.5,222.5 Z"/>
<path d="M701.5,220 Q703.5,214 709.5,214.5 Q707.5,220 701.5,220 Z"/>
<path d="M709.5,215 Q713,211.5 718.5,213 Q714.5,217 709.5,215 Z"/>
<path d="M718.5,213.5 Q722,209.5 727.5,211 Q724,215.5 718.5,213.5 Z"/>
<path d="M713.5,225.5 Q716.5,221.5 722,222.5 Q718.5,226.5 713.5,225.5 Z"/>
<path d="M721.5,223.5 Q724.5,219 730.5,220 Q727,225 721.5,223.5 Z"/>
</g>
<path d="M703.5,222 Q702,219 699.5,218.5 M717.5,216.5 Q716,213 714,211 M721.5,225.5 Q721,222 719,221" stroke="#7a4a26" stroke-width="0.7" fill="none"/>
</g>
<g id="community">
<!-- shadow -->
<rect x="693.4" y="331.6" width="145.6" height="58.4" fill="#c9ccc9"/>
<!-- skyline -->
<g>
<path d="M692.4,331 L692.4,322.4 L696,319.8 L699.7,322.4 L703.5,319.8 L707.3,322.4 L707.3,331 Z" fill="#c6c6c6"/>
<path d="M707.3,331 L707.3,307.5 L711.2,303.1 L715.1,307.5 L715.1,331 Z" fill="#a6a6a6"/>
<rect x="715.1" y="308.4" width="7.6" height="22.6" fill="#b7b7b7"/>
<rect x="722.7" y="300.9" width="7.7" height="30.1" fill="#c9c9c9"/>
<rect x="726" y="295.3" width="1" height="6" fill="#c9c9c9"/>
<rect x="730.4" y="314.5" width="7.5" height="16.5" fill="#b2b2b2"/>
<path d="M737.9,331 L737.9,307.5 L741.85,303.1 L745.8,307.5 L745.8,331 Z" fill="#c6c6c6"/>
<rect x="745.8" y="311" width="7.9" height="20" fill="#a9a9a9"/>
<rect x="753.7" y="317.1" width="7" height="13.9" fill="#b7b7b7"/>
<rect x="755.8" y="312.8" width="1" height="4.5" fill="#b7b7b7"/>
<path d="M760.7,331 L760.7,322.4 L764.6,319.8 L768.4,322.4 L772.1,319.8 L775.8,322.4 L775.8,331 Z" fill="#c6c6c6"/>
<rect x="775.8" y="311" width="8.2" height="20" fill="#a9a9a9"/>
<path d="M784,331 L784,307.5 L788,303.1 L792,307.5 L792,331 Z" fill="#c6c6c6"/>
<rect x="792" y="314.5" width="6.9" height="16.5" fill="#b8b8b8"/>
<rect x="798.9" y="300.9" width="8" height="30.1" fill="#c9c9c9"/>
<rect x="802.4" y="295.3" width="1" height="6" fill="#c9c9c9"/>
<rect x="806.9" y="308.4" width="7" height="22.6" fill="#b7b7b7"/>
<path d="M813.9,331 L813.9,307.5 L817.75,303.1 L821.6,307.5 L821.6,331 Z" fill="#a6a6a6"/>
<rect x="821.6" y="314.5" width="7" height="16.5" fill="#b8b8b8"/>
<path d="M828.6,331 L828.6,322.4 L833.3,319.8 L838,322.4 L838,331 Z" fill="#c6c6c6"/>
</g>
<!-- park -->
<rect x="692.4" y="330.6" width="145.6" height="58.3" fill="#66b04a"/>
<!-- path -->
<path d="M692.4,352 C705,353 715,356 725,356.3 C740,356.8 750,356 760,353 C775,349.5 795,349 812,350.4 C825,351.5 833,354 838,358.5 L838,363.5 C830,361 820,358.3 812,358.3 C795,357.5 780,358.5 768,362.5 C755,367 740,369 725,368 C712,367 700,364 692.4,362.9 Z" fill="#b08965"/>
<!-- benches -->
<g fill="#6b5746">
<rect x="699.4" y="335.2" width="7" height="3.2"/><rect x="700" y="338.4" width="0.9" height="1.8"/><rect x="705" y="338.4" width="0.9" height="1.8"/>
<rect x="714.3" y="340.4" width="9.6" height="3.8"/><rect x="715" y="344.2" width="1" height="2"/><rect x="722.3" y="344.2" width="1" height="2"/>
<rect x="754.5" y="364.4" width="17.8" height="6.5"/><rect x="756" y="370.9" width="1.4" height="3"/><rect x="769.5" y="370.9" width="1.4" height="3"/>
<rect x="802.9" y="337" width="10.5" height="4.2"/>
</g>
<!-- trees -->
<g fill="#3e8a26">
<path d="M703.3,359.2 C708,359.2 709,363 708.8,365 C711,367 711.2,370 710.5,372 C713,374.5 713,379.5 708.5,381.7 L698,381.7 C693.5,379.5 693.5,374.5 696,372 C695.3,370 695.5,367 697.8,365 C697.6,363 698.6,359.2 703.3,359.2 Z"/>
<ellipse cx="709.9" cy="334.2" rx="2.4" ry="3.2"/><ellipse cx="709.9" cy="337.1" rx="3.6" ry="3.2"/><ellipse cx="709.9" cy="340.0" rx="4.4" ry="2.8"/>
<ellipse cx="727.6" cy="330.7" rx="2.2" ry="3.1"/><ellipse cx="727.6" cy="333.6" rx="3.3" ry="3.1"/><ellipse cx="727.6" cy="336.4" rx="4.0" ry="2.8"/>
<path d="M782.8,345.2 C787,345.2 787.6,348.5 787.4,350.5 C789.5,352.5 789.6,355 789,357 C791.5,359.5 791.5,363 787.5,365.3 L778,365.3 C774,363 774,359.5 776.5,357 C776,355 776.1,352.5 778.2,350.5 C778,348.5 778.6,345.2 782.8,345.2 Z"/>
<ellipse cx="826.1" cy="328.1" rx="2.1" ry="3.1"/><ellipse cx="826.1" cy="331.0" rx="3.2" ry="3.1"/><ellipse cx="826.1" cy="333.8" rx="3.9" ry="2.8"/>
<ellipse cx="834.4" cy="323.9" rx="1.7" ry="3.3"/><ellipse cx="834.4" cy="327.0" rx="2.5" ry="3.3"/><ellipse cx="834.4" cy="330.0" rx="3.0" ry="3.0"/>
<path d="M816,388.9 C815.5,385 816.5,382.5 819.6,381.5 C818.5,378 819,375.5 821.2,374.5 C820,371 820.5,368 822.5,366.5 C822,362 824.5,358.5 829,358.3 C834,358.3 836.5,361 838,364 L838,388.9 Z" fill="#478a2a"/>
</g>
<g fill="#5e4630">
<rect x="702.8" y="381" width="1.6" height="7.3"/>
<rect x="709.3" y="342.5" width="1.2" height="2.8"/>
<rect x="727" y="338.6" width="1.2" height="3.9"/>
<rect x="782.1" y="365" width="1.5" height="8.7"/>
<rect x="825.6" y="336" width="1.1" height="4"/>
<rect x="833.9" y="332.5" width="1" height="3"/>
</g>
<!-- people -->
<g>
<circle cx="734.1" cy="348.6" r="1.4" fill="#4a2e1f"/>
<rect x="732.6" y="350" width="2.6" height="5" fill="#b5452f"/>
<path d="M732.8,355 L735.2,355 L737.5,364 L736,364.2 L734,358 L732,364.4 L730.6,364.2 Z" fill="#6ab7d8"/>
<g fill="#6b3f22"><ellipse cx="722.8" cy="361.2" rx="2.7" ry="1.5"/><circle cx="720.2" cy="359.2" r="1.3"/><path d="M719,358.2 L718.2,360.2 L719.4,360 Z"/>
<rect x="720.6" y="361.5" width="0.7" height="2.7"/><rect x="722.2" y="361.8" width="0.7" height="2.5"/><rect x="723.8" y="361.8" width="0.7" height="2.5"/><rect x="724.8" y="361.5" width="0.7" height="2.7"/>
<path d="M725.2,360.5 L726.6,359.2 L726.9,359.6 L725.6,361 Z"/></g>
<path d="M721,359 L732.6,355.5" stroke="#3c2a1f" stroke-width="0.4"/>
<rect x="752.8" y="336" width="2.2" height="8.3" fill="#4c9f96"/>
<rect x="755.6" y="335.9" width="2.2" height="8.4" fill="#3e8c8a"/>
<circle cx="807.3" cy="338.4" r="1.5" fill="#f2d64a"/>
<rect x="806" y="340" width="2.8" height="6" fill="#e3b33c"/>
<path d="M806,346 L808.8,346 L810.8,354.6 L809.4,354.8 L807.4,349 L805.6,354.8 L804,354.6 Z" fill="#4d6fae"/>
</g>
</g>
<g id="hospital">
<!-- shadow -->
<rect x="608.6" y="517" width="143.6" height="2.3" rx="0.8" fill="#c9c9c9"/>
<!-- wings -->
<rect x="608.2" y="479" width="41.5" height="39" fill="#dedede" stroke="#c4c4c4" stroke-width="0.8"/>
<rect x="709.6" y="479" width="42" height="39" fill="#dedede" stroke="#c4c4c4" stroke-width="0.8"/>
<rect x="607" y="474.8" width="42.5" height="5.1" fill="#5b5b5b"/>
<rect x="709.8" y="474.8" width="42" height="5.1" fill="#5b5b5b"/>
<!-- center -->
<rect x="649.3" y="455" width="60.7" height="62.8" fill="#ffffff" stroke="#c8c8c8" stroke-width="0.8"/>
<rect x="647.1" y="450.3" width="64.7" height="5.4" fill="#5b5b5b"/>
<!-- door -->
<rect x="668.2" y="501" width="22.8" height="16.6" fill="#dcdcdc"/>
<rect x="679.3" y="502.5" width="0.6" height="15" fill="#a8a8a8"/>
<!-- windows -->
<g fill="#d6eff9">
<rect x="653.8" y="459.6" width="8.2" height="11"/><rect x="667.8" y="459.6" width="8.6" height="11"/><rect x="682.5" y="459.6" width="8.4" height="11"/><rect x="696.9" y="459.6" width="8.4" height="11"/>
<rect x="653.8" y="481.6" width="8.2" height="11"/><rect x="667.8" y="481.6" width="8.6" height="11"/><rect x="682.5" y="481.6" width="8.4" height="11"/><rect x="696.9" y="481.6" width="8.4" height="11"/>
<rect x="620" y="487.5" width="7.6" height="10.1"/><rect x="634.4" y="487.5" width="8.1" height="10.1"/>
<rect x="716.3" y="487.5" width="7.9" height="10.1"/><rect x="731" y="487.5" width="8.1" height="10.1"/>
</g>
<g stroke="#8fb4c4" stroke-width="0.5">
<path d="M657.9,459.6V470.6M653.8,465H662 M672.1,459.6V470.6M667.8,465H676.4 M686.7,459.6V470.6M682.5,465H690.9 M701.1,459.6V470.6M696.9,465H705.3"/>
<path d="M657.9,481.6V492.6M653.8,487H662 M672.1,481.6V492.6M667.8,487H676.4 M686.7,481.6V492.6M682.5,487H690.9 M701.1,481.6V492.6M696.9,487H705.3"/>
<path d="M623.8,487.5V497.6M620,492.5H627.6 M638.4,487.5V497.6M634.4,492.5H642.5 M720.2,487.5V497.6M716.3,492.5H724.2 M735,487.5V497.6M731,492.5H739.1"/>
</g>
<g fill="#6a6a6a">
<rect x="653" y="470.6" width="9.8" height="1.7"/><rect x="667" y="470.6" width="10.2" height="1.7"/><rect x="681.7" y="470.6" width="10" height="1.7"/><rect x="696.1" y="470.6" width="10" height="1.7"/>
<rect x="653" y="492.6" width="9.8" height="1.7"/><rect x="667" y="492.6" width="10.2" height="1.7"/><rect x="681.7" y="492.6" width="10" height="1.7"/><rect x="696.1" y="492.6" width="10" height="1.7"/>
<rect x="619.2" y="497.6" width="9.2" height="1.8"/><rect x="633.6" y="497.6" width="9.7" height="1.8"/><rect x="715.5" y="497.6" width="9.5" height="1.8"/><rect x="730.2" y="497.6" width="9.7" height="1.8"/>
</g>
<!-- H sign -->
<circle cx="679.7" cy="439.5" r="9.4" fill="#b23535"/>
<path d="M675.3,434.6h2.4v3.7h4v-3.7h2.4v9.8h-2.4v-4h-4v4h-2.4Z" fill="#ffffff"/>
</g>
<g id="env">
<!-- mountains -->
<path d="M326,528 L326,516 L331,512.5 L335,517 L352.5,500 L366,516 L373.5,508.5 L385,520 L391,515 L396,513 L404,518 L423,504.5 L435,518 L442,513 L453,522 L458,519 L462,528 Z" fill="#e5e0ec"/>
<path d="M352.5,500 L366,516 L369,513 Z M423,504.5 L435,518 L437,516 Z M373.5,508.5 L385,520 L386,518.5 Z M442,513 L453,522 L454,520.5Z" fill="#cfc6d8"/>
<path d="M352.5,500 L347,507 L351,506 L353,509 L356,504.5 Z M423,504.5 L417,512 L421,510 L424,513 L427,509 Z M396,513 L390,518 L396,517 L402,518 Z M373.5,508.5 L369,513 L373,512.5 L376,511Z" fill="#f3f0f6"/>
<!-- clouds -->
<g fill="#d5f1fb" stroke="#c2c7cc" stroke-width="0.6">
<path d="M320.8,509.5 Q320,505 325,504 Q327,499 334,499 Q340,498.5 343,502.5 Q347,501 350,503.5 Q355,505 354.3,509.5 Z"/>
<path d="M300.5,513 Q300,509 304,508.5 Q307,506 311,506.5 Q315,507 316,509 Q320,509.5 319.8,513 Z"/>
<path d="M374.2,504.5 Q374,501 378,500.5 Q380,497.8 385,498 Q389,499 390,501.5 Q393.8,502 393.5,504.5 Z"/>
<path d="M396,512.4 Q395.8,509 399,508.5 Q401,505.6 405,505.8 Q409,506 410,508.5 Q414.5,509 414.4,512.4 Z"/>
<path d="M411.8,508 Q411,503.5 416,502.5 Q418,497 425,496.8 Q432,496.5 434,500.5 Q438,499.5 441,502 Q446,503.5 445.5,508 Z"/>
<path d="M463.2,516.7 Q463,513.5 466,513 Q468,510 472,510.3 Q476,510.5 477,513 Q481.8,513.5 481.6,516.7 Z"/>
</g>
<!-- left hills -->
<path d="M280,529.5 Q285,524.5 291,523.2 Q296,523 300,525 L300,530 Z" fill="#55a93a"/>
<path d="M296,529.5 C299.5,529.5 299.5,519.8 304.7,519.8 C309.3,519.8 309.3,525.5 311.2,525.5 C313.2,525.5 313.2,519.8 317.2,519.8 C322,519.8 322,529.5 326,529.5 Z" fill="#4e9934"/>
<path d="M311.2,525.5 C313.2,525.5 313.2,519.8 317.2,519.8 L317.6,529.5 L311,529.5 Z" fill="#5aab3c"/>
<!-- left tree cluster -->
<path d="M284.5,517.5 L285.9,521.5 L285.3,521.5 L286.9,525.5 L282.1,525.5 L283.7,521.5 L283.1,521.5 Z" fill="#2f6d22"/><path d="M287.8,516.5 L289.4,520.6 L288.7,520.6 L290.4,524.8 L285.2,524.8 L286.9,520.6 L286.2,520.6 Z" fill="#2f6d22"/><path d="M292.0,515.0 L293.9,519.6 L293.1,519.6 L295.2,524.3 L288.8,524.3 L290.9,519.6 L290.1,519.6 Z" fill="#2f6d22"/><path d="M295.2,516.2 L296.8,520.6 L296.1,520.6 L297.8,525.0 L292.6,525.0 L294.3,520.6 L293.6,520.6 Z" fill="#2f6d22"/><path d="M298.2,517.5 L299.6,521.5 L299.0,521.5 L300.5,525.5 L295.9,525.5 L297.4,521.5 L296.8,521.5 Z" fill="#2f6d22"/>
<!-- lake -->
<path d="M336,528.2 L460,528.2 L460,540 L336,540 Z" fill="#6aaee0"/>
<!-- main light green band -->
<path d="M275,529 L338,529 C362,529.5 380,539.6 401,539.6 C420,539.6 436,530 458,529 L502,529 L502,545.8 L275,545.8 Z" fill="#58ad3a"/>
<path d="M338,529 C362,529.5 380,539.6 401,539.6 C420,539.6 436,530 458,529" fill="none" stroke="#4e9a48" stroke-width="0.6"/>
<!-- right hills -->
<path d="M454,529.5 C461,529 463,519.8 469.5,519.8 C473.5,519.8 474.5,524 476.2,524 C478,524 479.5,519.8 483.5,519.8 C489,519.8 490,528.3 497,529 L497,532 L454,532 Z" fill="#4e9a34"/>
<path d="M469.5,519.8 C473.5,519.8 474.5,524 476.2,524 L476.5,532 L470,532 Z M483.5,519.8 C489,519.8 490,528.3 497,529 L497,532 L484,532 Z" fill="#58a83a"/>
<!-- evergreen trees -->
<g fill="#7a5a2a"><rect x="324.8" y="527" width="1.3" height="6"/><rect x="333.4" y="526" width="1.3" height="5.4"/></g>
<path d="M325.0,519.5 L327.0,524.5 L326.2,524.5 L328.4,529.5 L321.6,529.5 L323.8,524.5 L323.0,524.5 Z" fill="#2f6d22"/><path d="M329.0,517.2 L330.9,522.4 L330.1,522.4 L332.2,527.5 L325.8,527.5 L327.9,522.4 L327.1,522.4 Z" fill="#2f6d22"/><path d="M334.0,518.8 L336.0,523.5 L335.2,523.5 L337.4,528.3 L330.6,528.3 L332.8,523.5 L332.0,523.5 Z" fill="#2f6d22"/>
<path d="M328.5,525.5 L330.5,525.5 L330,527.5 L328.8,527.5 Z" fill="#ffffff" opacity="0.8"/>
<!-- flowers -->
<path d="M460.0,533.5 Q460.7,536.7 462.3,537.2 Q463.9,536.7 464.6,533.5 Z" fill="#3f8a2a"/><circle cx="462.30" cy="530.14" r="1.60" fill="#fffbe6"/><circle cx="463.97" cy="531.36" r="1.60" fill="#fffbe6"/><circle cx="463.33" cy="533.32" r="1.60" fill="#fffbe6"/><circle cx="461.27" cy="533.32" r="1.60" fill="#fffbe6"/><circle cx="460.63" cy="531.36" r="1.60" fill="#fffbe6"/><circle cx="462.3" cy="531.9" r="1.28" fill="#e9c23a"/>
<path d="M468.0,529.2 Q468.6,531.8 469.9,532.2 Q471.2,531.8 471.8,529.2 Z" fill="#3f8a2a"/><circle cx="469.90" cy="526.47" r="1.30" fill="#fffbe6"/><circle cx="471.26" cy="527.46" r="1.30" fill="#fffbe6"/><circle cx="470.74" cy="529.06" r="1.30" fill="#fffbe6"/><circle cx="469.06" cy="529.06" r="1.30" fill="#fffbe6"/><circle cx="468.54" cy="527.46" r="1.30" fill="#fffbe6"/><circle cx="469.9" cy="527.9" r="1.04" fill="#e9c23a"/>
<path d="M475.8,530.7 Q476.5,533.5 477.9,534.0 Q479.3,533.5 480.0,530.7 Z" fill="#3f8a2a"/><circle cx="477.90" cy="527.76" r="1.40" fill="#fffbe6"/><circle cx="479.36" cy="528.82" r="1.40" fill="#fffbe6"/><circle cx="478.81" cy="530.55" r="1.40" fill="#fffbe6"/><circle cx="476.99" cy="530.55" r="1.40" fill="#fffbe6"/><circle cx="476.44" cy="528.82" r="1.40" fill="#fffbe6"/><circle cx="477.9" cy="529.3" r="1.12" fill="#e9c23a"/>
<path d="M486.2,529.7 Q486.9,532.5 488.3,533.0 Q489.7,532.5 490.4,529.7 Z" fill="#3f8a2a"/><circle cx="488.30" cy="526.76" r="1.40" fill="#fffbe6"/><circle cx="489.76" cy="527.82" r="1.40" fill="#fffbe6"/><circle cx="489.21" cy="529.55" r="1.40" fill="#fffbe6"/><circle cx="487.39" cy="529.55" r="1.40" fill="#fffbe6"/><circle cx="486.84" cy="527.82" r="1.40" fill="#fffbe6"/><circle cx="488.3" cy="528.3" r="1.12" fill="#e9c23a"/>
<!-- dark band -->
<rect x="290.2" y="545.3" width="195.8" height="9" fill="#3f9022"/>
</g>
<g fill="none" stroke="#000" stroke-width="1.8" stroke-linejoin="miter">
<polyline points="315.0,141.7 211.6,204.2"/>
<polyline points="394.0,144.3 370.9,195.8"/>
<polyline points="501.0,142.0 514.6,177.2"/>
<polyline points="523.7,129.1 695.7,196.0"/>
<polyline points="400.6,225.8 486.9,225.5"/>
<polyline points="682.3,227.1 601.1,227.1"/>
<polyline points="205.5,269.6 269.4,313.5"/>
<polyline points="322.5,311.7 322.5,284.6"/>
<polyline points="356.0,324.0 485.6,276.0"/>
<polyline points="176.6,289.0 193.2,385.3"/>
<polyline points="251.9,411.7 309.3,411.7"/>
<polyline points="405.4,380.2 506.0,288.9"/>
<polyline points="529.3,291.7 496.7,372.2"/>
<polyline points="241.2,438.5 287.4,491.4"/>
<polyline points="367.3,490.8 367.3,453.9"/>
<polyline points="464.3,450.0 458.8,485.5"/>
<polyline points="270.1,537.6 131.8,537.6 131.6,292.4"/>
<polyline points="507.3,537.2 562.7,537.2 557.6,294.6"/>
<polyline points="584.6,290.4 630.6,428.4"/>
<polyline points="603.6,276.3 680.1,328.5"/>
<polyline points="711.7,406.3 704.2,429.2"/>
</g>
<g fill="#000">
<path d="M205.8,207.7 L212.5,198.5 L212.0,203.9 L217.1,206.0 Z"/>
<path d="M368.1,202.0 L368.4,190.6 L371.1,195.3 L376.4,194.2 Z"/>
<path d="M517.0,183.5 L509.1,175.3 L514.4,176.7 L517.3,172.1 Z"/>
<path d="M702.0,198.5 L690.6,198.8 L695.2,195.9 L693.8,190.6 Z"/>
<path d="M493.7,225.5 L483.2,229.9 L486.4,225.5 L483.2,221.1 Z"/>
<path d="M594.3,227.1 L604.8,222.7 L601.6,227.1 L604.8,231.5 Z"/>
<path d="M275.0,317.4 L263.9,315.1 L269.0,313.3 L268.8,307.8 Z"/>
<path d="M322.5,277.8 L326.9,288.3 L322.5,285.1 L318.1,288.3 Z"/>
<path d="M492.0,273.6 L483.7,281.4 L485.2,276.1 L480.6,273.1 Z"/>
<path d="M194.4,392.0 L188.3,382.4 L193.2,384.8 L196.9,380.9 Z"/>
<path d="M316.1,411.7 L305.6,416.1 L308.8,411.7 L305.6,407.3 Z"/>
<path d="M511.0,284.3 L506.2,294.6 L505.6,289.2 L500.3,288.1 Z"/>
<path d="M494.2,378.5 L494.1,367.1 L496.9,371.7 L502.2,370.4 Z"/>
<path d="M291.9,496.5 L281.7,491.5 L287.1,491.0 L288.3,485.7 Z"/>
<path d="M367.3,447.1 L371.7,457.6 L367.3,454.4 L362.9,457.6 Z"/>
<path d="M457.8,492.2 L455.0,481.2 L458.9,485.0 L463.7,482.5 Z"/>
<path d="M131.6,285.6 L136.0,296.1 L131.6,292.9 L127.2,296.1 Z"/>
<path d="M557.5,287.8 L562.1,298.2 L557.7,295.1 L553.3,298.4 Z"/>
<path d="M632.8,434.9 L625.3,426.3 L630.5,428.0 L633.6,423.5 Z"/>
<path d="M582.4,283.9 L589.9,292.5 L584.7,290.8 L581.6,295.3 Z"/>
<path d="M685.7,332.3 L674.5,330.0 L679.7,328.2 L679.5,322.7 Z"/>
<path d="M598.0,272.5 L609.2,274.8 L604.0,276.6 L604.2,282.1 Z"/>
<path d="M702.1,435.7 L701.2,424.4 L704.4,428.8 L709.5,427.1 Z"/>
<path d="M713.8,399.8 L714.7,411.1 L711.5,406.7 L706.3,408.4 Z"/>
</g>
<g font-family="Liberation Sans, sans-serif">
<text x="315.9" y="131.5" font-size="20.8" fill="#1b67ab" textLength="195.6" lengthAdjust="spacingAndGlyphs">Antimicrobial Usage</text>
<g fill="#2569a6" font-size="14">
<text x="103" y="269.3" textLength="89.5" lengthAdjust="spacingAndGlyphs">Food Animals</text>
<text x="280.7" y="269.3" textLength="130.6" lengthAdjust="spacingAndGlyphs">Companion Animals</text>
<text x="517.8" y="269" textLength="54.2" lengthAdjust="spacingAndGlyphs">Humans</text>
<text x="713.9" y="269" textLength="39.8" lengthAdjust="spacingAndGlyphs">Plants</text>
</g>
<g fill="#1e1e1e" font-size="14">
<text x="356.6" y="339.2" textLength="33" lengthAdjust="spacingAndGlyphs">Food</text>
<text x="183.7" y="451.8" textLength="49.5" lengthAdjust="spacingAndGlyphs">Manure</text>
<text x="300.8" y="439" textLength="39" lengthAdjust="spacingAndGlyphs">Crops</text>
<text x="475.9" y="425.6" textLength="49.2" lengthAdjust="spacingAndGlyphs">Sewage</text>
<text x="731.5" y="408.2" textLength="75.5" lengthAdjust="spacingAndGlyphs">Community</text>
<text x="653.6" y="537.9" textLength="52.3" lengthAdjust="spacingAndGlyphs">Hospital</text>
<text x="344" y="571" textLength="81.6" lengthAdjust="spacingAndGlyphs">Environment</text>
</g>
</g>
</svg>
</body></html>
